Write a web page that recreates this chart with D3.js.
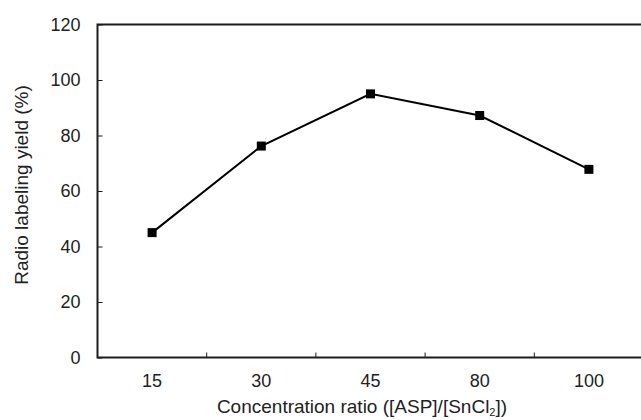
<!DOCTYPE html>
<html>
<head>
<meta charset="utf-8">
<script src="https://cdn.jsdelivr.net/npm/d3@7"></script>
<style>
  html, body { margin: 0; padding: 0; background: #fff; }
  svg { display: block; font-family: "Liberation Sans", Arial, sans-serif; }
</style>
</head>
<body>
<svg id="chart" width="641" height="420"></svg>
<script>
const categories = ["15", "30", "45", "80", "100"];
const yieldValues = [45.0, 76.2, 95.0, 87.2, 67.8];
const yTicks = [0, 20, 40, 60, 80, 100, 120];

const svg = d3.select("#chart");
const mLeft = 97.5, mRight = 643.5, mTop = 24.5, mBottom = 357.5;
const ink = "#1c1c1c";
const fs = "18px";
const fsTitle = "19px";

const x = d3.scaleBand().domain(categories).range([mLeft, mRight]).padding(0);
const y = d3.scaleLinear().domain([0, 120]).range([mBottom, mTop]);

// Y axis
const yAxis = svg.append("g")
  .attr("transform", `translate(${mLeft},0)`)
  .call(d3.axisLeft(y).tickValues(yTicks).tickSize(-5).tickPadding(17));
yAxis.select(".domain").remove();
yAxis.selectAll(".tick line").attr("stroke", ink).attr("stroke-width", 1);
yAxis.selectAll(".tick text").attr("fill", "#222").style("font-size", fs);

// X axis labels
const xAxis = svg.append("g")
  .attr("transform", `translate(0,${mBottom})`)
  .call(d3.axisBottom(x).tickSize(0).tickPadding(17));
xAxis.select(".domain").remove();
xAxis.selectAll(".tick text").attr("fill", "#222").style("font-size", fs);

// X boundary ticks (inward)
svg.append("g").selectAll("line")
  .data(categories.slice(1))
  .join("line")
  .attr("x1", d => x(d)).attr("x2", d => x(d))
  .attr("y1", mBottom).attr("y2", mBottom - 5)
  .attr("stroke", ink).attr("stroke-width", 1);

// Frame
svg.append("path")
  .attr("d", `M${mRight},${mTop}H${mLeft}V${mBottom}H${mRight}`)
  .attr("fill", "none").attr("stroke", ink).attr("stroke-width", 2);

// Data line
const cx = d => x(d) + x.bandwidth() / 2;
const pts = categories.map((c, i) => [cx(c), y(yieldValues[i])]);
svg.append("path")
  .datum(pts)
  .attr("d", d3.line())
  .attr("fill", "none").attr("stroke", "#000").attr("stroke-width", 2);

svg.append("g").selectAll("rect")
  .data(pts)
  .join("rect")
  .attr("x", d => d[0] - 4.5).attr("y", d => d[1] - 4.5)
  .attr("width", 9).attr("height", 9)
  .attr("fill", "#000");

// Axis titles
svg.append("text")
  .attr("x", 362).attr("y", 413)
  .attr("text-anchor", "middle")
  .attr("fill", "#222").style("font-size", fsTitle)
  .html('Concentration ratio ([ASP]/[SnCl<tspan baseline-shift="-3" font-size="11px">2</tspan>])');

svg.append("text")
  .attr("transform", "translate(28,185) rotate(-90)")
  .attr("text-anchor", "middle")
  .attr("fill", "#222").style("font-size", fsTitle)
  .text("Radio labeling yield (%)");
</script>
</body>
</html>
